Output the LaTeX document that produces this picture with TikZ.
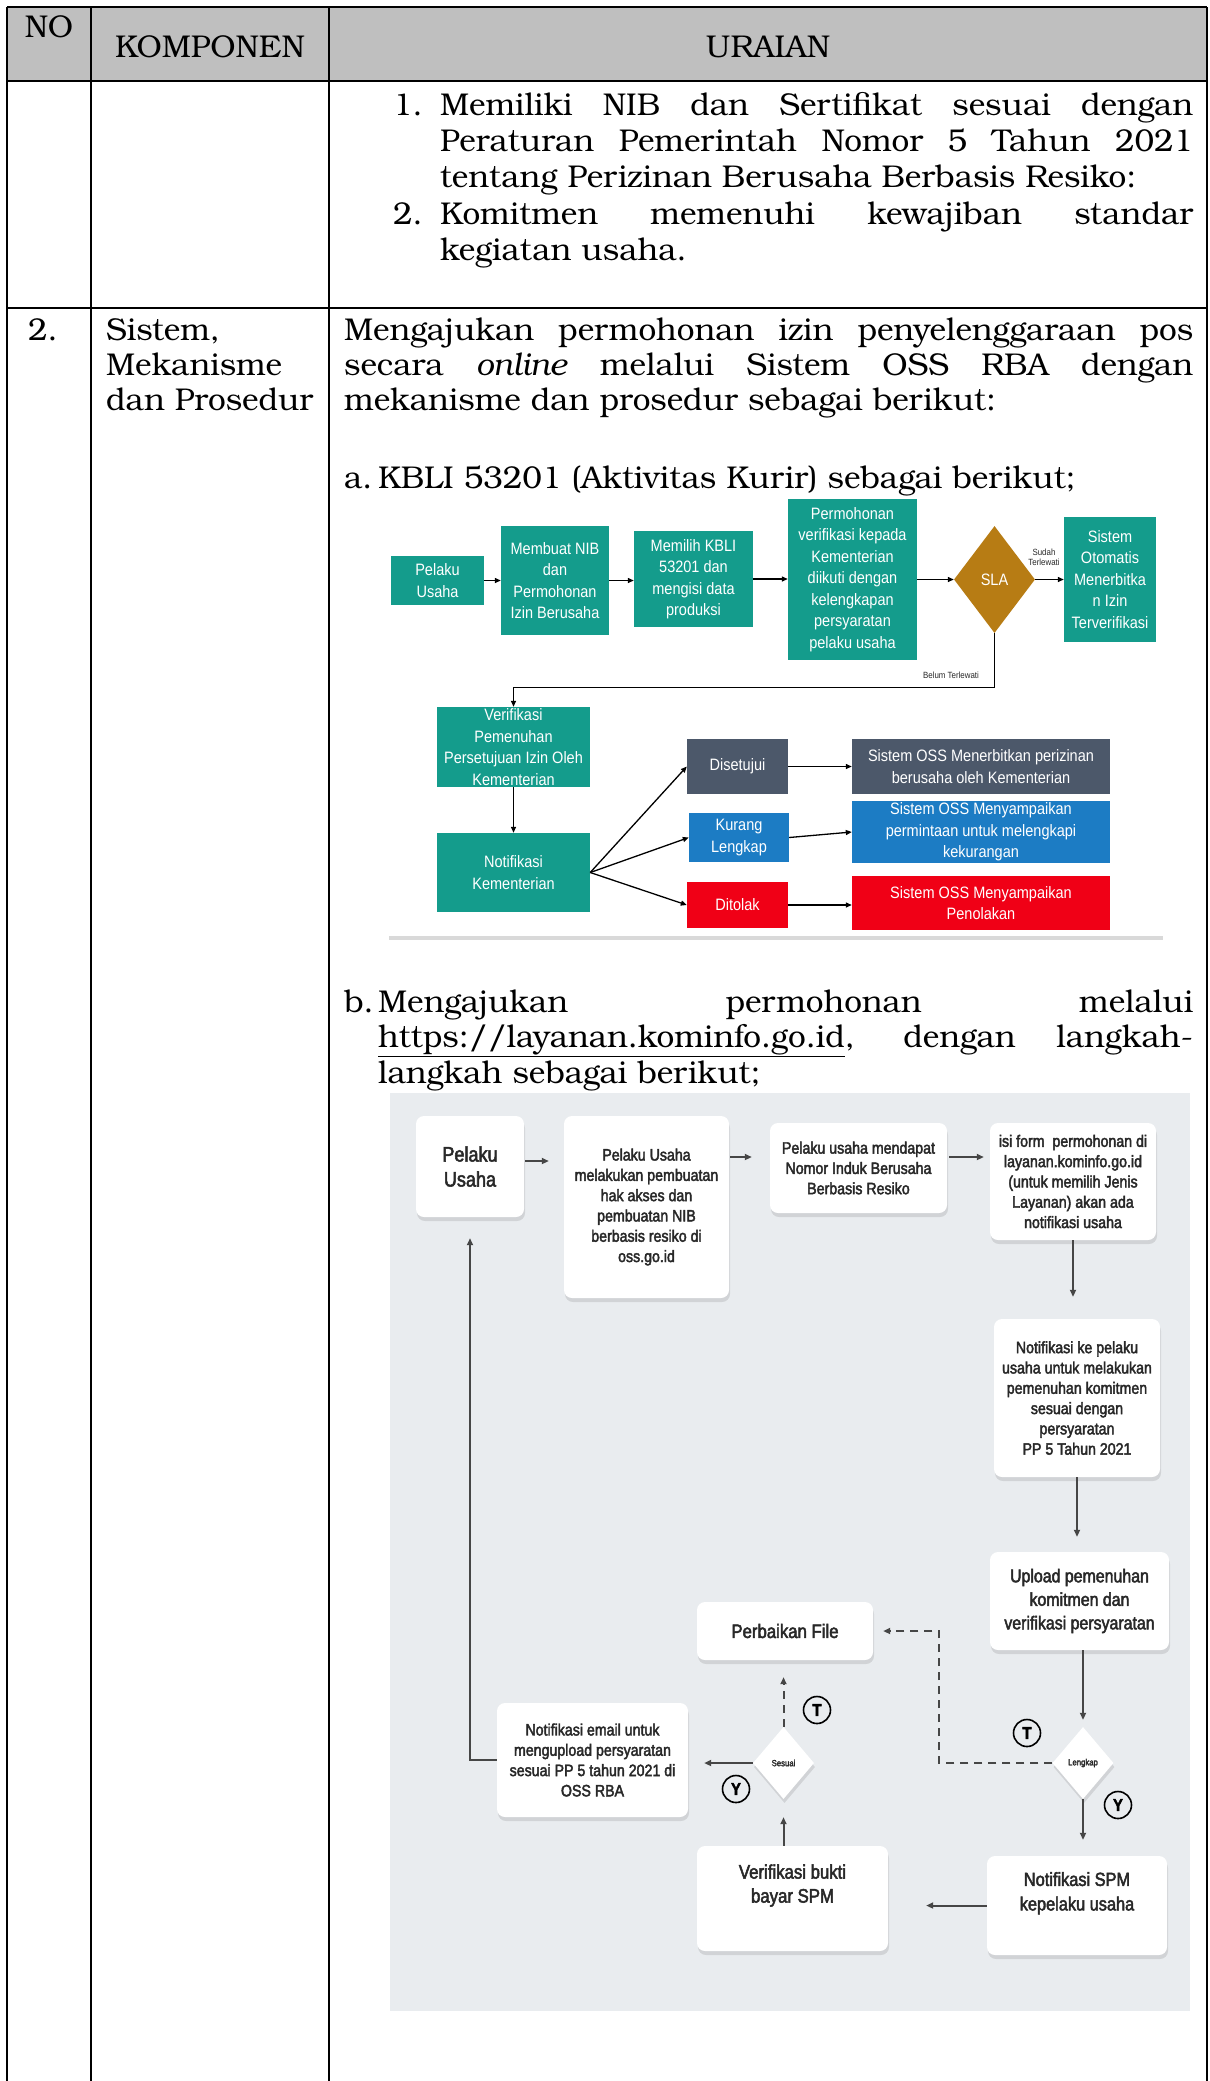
\documentclass[tikz,border=0pt]{standalone}
\usepackage{fontspec}
\setmainfont{TeX Gyre Bonum}
\newfontfamily\fa[FakeStretch=0.88]{Liberation Sans}
\newfontfamily\fb[FakeStretch=0.86,FakeBold=2.5]{Liberation Sans}
\usetikzlibrary{shapes.geometric,arrows.meta,shadows,calc}
\definecolor{hdr}{RGB}{191,191,191}
\definecolor{tealbox}{RGB}{20,156,140}
\definecolor{slabox}{RGB}{183,124,20}
\definecolor{slate}{RGB}{76,88,106}
\definecolor{bluebox}{RGB}{28,124,196}
\definecolor{redbox}{RGB}{240,0,22}
\definecolor{panel}{RGB}{233,236,239}
\definecolor{sep}{RGB}{217,217,217}
\definecolor{ink}{RGB}{40,40,40}
\definecolor{arrb}{RGB}{70,70,70}
\tikzset{
  txt/.style={inner sep=0pt, anchor=base west, font=\fontsize{31.5}{36}\selectfont},
  grid/.style={line width=2.5pt, black},
  abox/.style={fill=#1, text=white, inner sep=0pt, align=center, font=\fa\fontsize{16.5}{21.5}\selectfont},
  arrA/.style={-{Triangle[length=6pt,width=5pt]}, line width=1.3pt, black},
  wbox/.style={fill=white, rounded corners=8pt, inner sep=0pt, align=center, text=ink,
     drop shadow={shadow xshift=1pt, shadow yshift=-4pt, fill=black, opacity=0.10},
     font=\fb\fontsize{16.5}{20.3}\selectfont},
  wdia/.style={diamond, fill=white, inner sep=0pt, text=ink, font=\fb\fontsize{9}{10}\selectfont,
     drop shadow={shadow xshift=1pt, shadow yshift=-4pt, fill=black, opacity=0.10}},
  arrB/.style={-{Triangle[length=7pt,width=6pt]}, line width=2pt, arrb},
  dsh/.style={dash pattern=on 8pt off 6pt},
  circ/.style={circle, draw=black, line width=1.6pt, minimum size=27pt, inner sep=0pt,
     font=\fb\fontsize{17}{17}\selectfont\bfseries},
  lbl/.style={inner sep=0pt, align=center, font=\fa\fontsize{9}{10}\selectfont, text=ink}
}
\begin{document}
\begin{tikzpicture}[x=1pt,y=-1pt]
\useasboundingbox (0,0) rectangle (1210,2081);
\fill[white] (0,0) rectangle (1210,2081);
% ---------- table ----------
\fill[hdr] (7,7) rectangle (1207,81);
\draw[grid] (7,7) -- (1207,7);
\draw[grid] (7,81) -- (1207,81);
\draw[grid] (7,308) -- (1207,308);
\draw[grid] (7,7) -- (7,2081);
\draw[grid] (91,7) -- (91,2081);
\draw[grid] (329,7) -- (329,2081);
\draw[grid] (1207,7) -- (1207,2081);
\node[txt, anchor=base] (h1) at (49,37) {NO};
\node[txt, anchor=base] (h2) at (210,57) {KOMPONEN};
\node[txt, anchor=base] (h3) at (768,57) {URAIAN};
% row 1
\node[txt] (n1) at (393,115) {1.};
\node[txt] (r1a) at (440,115) {\makebox[753pt][s]{Memiliki NIB dan Sertifikat sesuai dengan}};
\node[txt] (r1b) at (440,151) {\makebox[753pt][s]{Peraturan Pemerintah Nomor 5 Tahun 2021}};
\node[txt] (r1c) at (440,187) {tentang Perizinan Berusaha Berbasis Resiko:};
\node[txt] (n2) at (393,224) {2.};
\node[txt] (r1d) at (440,224) {\makebox[753pt][s]{Komitmen memenuhi kewajiban standar}};
\node[txt] (r1e) at (440,260) {kegiatan usaha.};
% row 2
\node[txt] (no2) at (28,340) {2.};
\node[txt] (k1) at (106,340) {Sistem,};
\node[txt] (k2) at (106,375) {Mekanisme};
\node[txt] (k3) at (106,410) {dan Prosedur};
\node[txt] (u1) at (344,340) {\makebox[849pt][s]{Mengajukan permohonan izin penyelenggaraan pos}};
\node[txt] (u2) at (344,375) {\makebox[849pt][s]{secara \textit{online} melalui Sistem OSS RBA dengan}};
\node[txt] (u3) at (344,410) {mekanisme dan prosedur sebagai berikut:};
\node[txt] (la) at (344,488) {a.};
\node[txt] (ua) at (378,488) {KBLI 53201 (Aktivitas Kurir) sebagai berikut;};
\node[txt] (lb) at (344,1012) {b.};
\node[txt] (ub1) at (378,1012) {\makebox[815pt][s]{Mengajukan permohonan melalui}};
\node[txt] (ub2) at (378,1047) {\makebox[815pt][s]{\underline{https://layanan.kominfo.go.id}, dengan langkah-}};
\node[txt] (ub3) at (378,1083) {langkah sebagai berikut;};
% ---------- flowchart a ----------
\node[abox=tealbox, minimum width=93, minimum height=49] (a1) at (437.5,580.5) {Pelaku\\Usaha};
\node[abox=tealbox, minimum width=108, minimum height=109] (a2) at (555,580.5) {Membuat NIB\\dan\\Permohonan\\Izin Berusaha};
\node[abox=tealbox, minimum width=119, minimum height=96] (a3) at (693.5,579) {Memilih KBLI\\53201 dan\\mengisi data\\produksi};
\node[abox=tealbox, minimum width=129, minimum height=161] (a4) at (852.5,579.5) {Permohonan\\verifikasi kepada\\Kementerian\\diikuti dengan\\kelengkapan\\persyaratan\\pelaku usaha};
\node[abox=slabox, diamond, minimum width=81, minimum height=107] (sla) at (994.5,579.5) {SLA};
\node[abox=tealbox, minimum width=92, minimum height=125] (a5) at (1110,579.5) {Sistem\\Otomatis\\Menerbitka\\n Izin\\Terverifikasi};
\draw[arrA] (a1.east) -- (a1.east -| a2.west);
\draw[arrA] (a2.east) -- (a2.east -| a3.west);
\draw[arrA] (a3.east) -- (a3.east -| a4.west);
\draw[arrA] (a4.east) -- (a4.east -| sla.west);
\draw[arrA] (sla.east) -- (sla.east -| a5.west);
\node[lbl] (sud) at (1044,557) {Sudah\\Terlewati};
\node[abox=tealbox, minimum width=153, minimum height=80] (vf) at (513.5,747) {Verifikasi\\Pemenuhan\\Persetujuan Izin Oleh\\Kementerian};
\node[abox=tealbox, minimum width=153, minimum height=79] (nk) at (513.5,872.5) {Notifikasi\\Kementerian};
\draw[arrA] (sla.south) -- ++(0,54) -| (vf.north);
\node[lbl] (bel) at (951,675) {Belum Terlewati};
\draw[arrA] (vf.south) -- (nk.north);
\node[abox=slate, minimum width=101, minimum height=55] (dis) at (737.5,766.5) {Disetujui};
\node[abox=bluebox, minimum width=100, minimum height=49] (kl) at (739,837.5) {Kurang\\Lengkap};
\node[abox=redbox, minimum width=101, minimum height=46] (dt) at (737.5,905) {Ditolak};
\node[abox=slate, minimum width=258, minimum height=55] (ra) at (981,766.5) {Sistem OSS Menerbitkan perizinan\\berusaha oleh Kementerian};
\node[abox=bluebox, minimum width=258, minimum height=62] (rb) at (981,832) {Sistem OSS Menyampaikan\\permintaan untuk melengkapi\\kekurangan};
\node[abox=redbox, minimum width=258, minimum height=54] (rc) at (981,903) {Sistem OSS Menyampaikan\\Penolakan};
\draw[arrA] (nk.east) -- (dis.west);
\draw[arrA] (nk.east) -- (kl.west);
\draw[arrA] (nk.east) -- (dt.west);
\draw[arrA] (dis.east) -- (dis.east -| ra.west);
\draw[arrA] (kl.east) -- (rb.west);
\draw[arrA] (dt.east) -- (dt.east -| rc.west);
\coordinate (g1) at (389,938);
\coordinate (g2) at (1163,938);
\draw[sep, line width=4pt] (g1) -- (g2);
% ---------- flowchart b ----------
\fill[panel] (390,1093) rectangle (1190,2011);
\node[wbox, minimum width=108, minimum height=101, font=\fb\fontsize{21}{25}\selectfont] (b1) at (470,1166.5) {Pelaku\\Usaha};
\node[wbox, minimum width=165, minimum height=182] (b2) at (646.5,1207) {Pelaku Usaha\\melakukan pembuatan\\hak akses dan\\pembuatan NIB\\berbasis resiko di\\oss.go.id};
\node[wbox, minimum width=177, minimum height=90] (b3) at (858.5,1168) {Pelaku usaha mendapat\\Nomor Induk Berusaha\\Berbasis Resiko};
\node[wbox, minimum width=166, minimum height=117] (b4) at (1073,1181.5) {isi form\ \ permohonan di\\layanan.kominfo.go.id\\(untuk memilih Jenis\\Layanan) akan ada\\notifikasi usaha};
\node[wbox, minimum width=166, minimum height=158] (b5) at (1077,1398) {Notifikasi ke pelaku\\usaha untuk melakukan\\pemenuhan komitmen\\sesuai dengan\\persyaratan\\PP 5 Tahun 2021};
\node[wbox, minimum width=179, minimum height=98, font=\fb\fontsize{18.5}{23.5}\selectfont] (b6) at (1079.5,1601) {Upload pemenuhan\\komitmen dan\\verifikasi persyaratan};
\node[wbox, minimum width=176, minimum height=58, font=\fb\fontsize{19.5}{24}\selectfont] (b7) at (785,1631) {Perbaikan File};
\node[wdia, minimum width=61, minimum height=72] (lk) at (1083,1763) {Lengkap};
\node[wdia, minimum width=61, minimum height=72] (ss) at (783.5,1763) {Sesuai};
\node[wbox, minimum width=191, minimum height=114] (b8) at (592.5,1760) {Notifikasi email untuk\\mengupload persyaratan\\sesuai PP 5 tahun 2021 di\\OSS RBA};
\node[wbox, minimum width=191, minimum height=105, font=\fb\fontsize{19.5}{24}\selectfont] (b9) at (792.5,1898.5) {Verifikasi bukti\\bayar SPM\\[6pt]};
\node[wbox, minimum width=180, minimum height=99, font=\fb\fontsize{19}{24.5}\selectfont] (b10) at (1077,1905.5) {Notifikasi SPM\\kepelaku usaha\\[4pt]};
\draw[arrB, shorten <=1pt, shorten >=15pt] ([yshift=5.5pt]b1.east) -- ([yshift=5.5pt]b1.east -| b2.west);
\draw[arrB, shorten <=1pt, shorten >=18pt] ([yshift=11pt]b3.west -| b2.east) -- ([yshift=11pt]b3.west);
\draw[arrB, shorten <=2pt, shorten >=6pt] ([yshift=11pt]b3.east) -- ([yshift=11pt]b3.east -| b4.west);
\draw[arrB, shorten >=22pt] (b4.south) -- (b4.south |- b5.north);
\draw[arrB, shorten >=15pt] (b5.south) -- (b5.south |- b6.north);
\draw[arrB, shorten >=7pt] (lk.north |- b6.south) -- (lk.north);
\draw[arrB, shorten >=16pt] (lk.south) -- (lk.south |- b10.north);
\draw[arrB, shorten >=38pt] (b10.west) -- (b10.west -| b9.east);
\draw[arrB, shorten >=18pt] (ss.south |- b9.north) -- (ss.south);
\draw[arrB, shorten >=16pt] (ss.west) -- (ss.west -| b8.east);
\draw[arrB, dsh, shorten >=17pt] (ss.north) -- (ss.north |- b7.south);
\draw[arrB, dsh, shorten >=10pt] (lk.west) -- ++(-113,0) |- (b7.east);
\draw[arrB, shorten >=21pt] (b8.west) -| (b1.south);
\node[circ] (t1) at (817,1710) {T};
\node[circ] (t2) at (1027,1733) {T};
\node[circ] (y1) at (736,1789) {Y};
\node[circ] (y2) at (1118,1805) {Y};
\end{tikzpicture}
\end{document}
